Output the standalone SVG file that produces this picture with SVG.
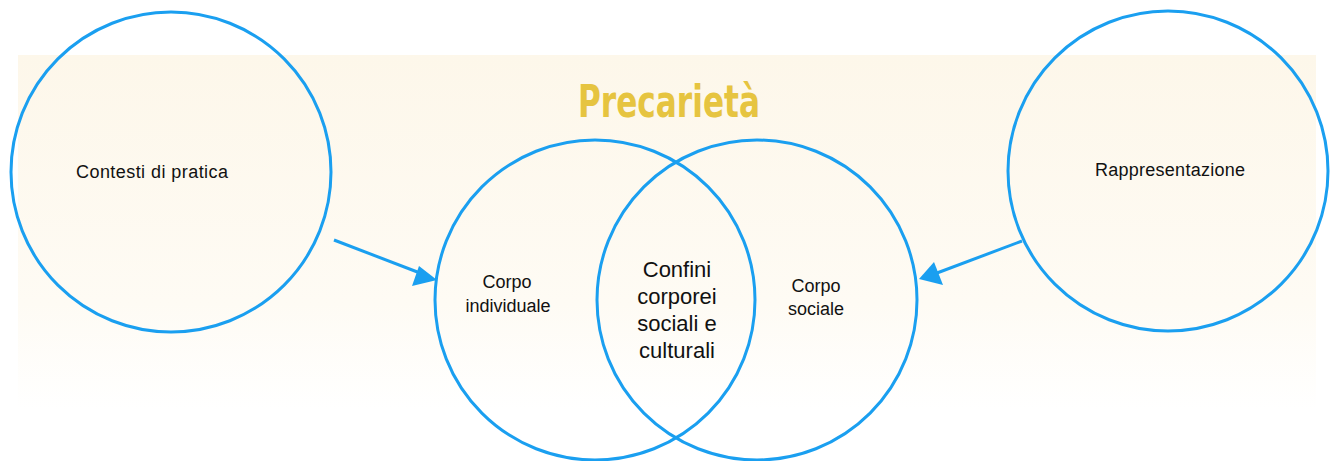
<svg xmlns="http://www.w3.org/2000/svg" width="1335" height="461" viewBox="0 0 1335 461">
<style>
.c{fill:none;stroke:#1a9ff0;stroke-width:3}
.t{font-family:"Helvetica","Liberation Sans",Arial,sans-serif;fill:#111;text-anchor:middle}
.s{font-size:18px}
.m{font-size:22px}
.a{stroke:#1a9ff0;stroke-width:3;fill:none}
</style>
<defs>
<linearGradient id="bg" x1="0" y1="0" x2="0" y2="1">
<stop offset="0" stop-color="#fdf7ea"/>
<stop offset="0.7" stop-color="#fefbf4"/>
<stop offset="1" stop-color="#ffffff"/>
</linearGradient>
</defs>
<rect x="18" y="55" width="1298" height="355" fill="url(#bg)"/>
<text x="578" y="117" textLength="182" lengthAdjust="spacingAndGlyphs" font-family="'Liberation Sans Narrow','DejaVu Sans Condensed','Liberation Sans',sans-serif" font-stretch="condensed" font-weight="bold" font-size="44" fill="#e6c440">Precarietà</text>
<g id="contesti">
<circle class="c" cx="171" cy="172" r="160"/>
<text class="t s" x="152" y="178" textLength="152">Contesti di pratica</text>
</g>
<g id="rappresentazione">
<circle class="c" cx="1168" cy="171" r="160"/>
<text class="t s" x="1170" y="176" textLength="150">Rappresentazione</text>
</g>
<g id="corpo-individuale">
<circle class="c" cx="595" cy="300" r="160"/>
<text class="t s" x="507" y="288">Corpo</text>
<text class="t s" x="508" y="312">individuale</text>
</g>
<g id="corpo-sociale">
<circle class="c" cx="757" cy="300" r="160"/>
<text class="t s" x="816" y="292">Corpo</text>
<text class="t s" x="816" y="315">sociale</text>
</g>
<g id="confini">
<text class="t m" x="677" y="277">Confini</text>
<text class="t m" x="677" y="304">corporei</text>
<text class="t m" x="677" y="331">sociali e</text>
<text class="t m" x="677" y="358">culturali</text>
</g>
<g id="connectors">
<line class="a" x1="334" y1="240" x2="420" y2="273"/>
<path d="M437,280 L412,286 L419,266 Z" fill="#1a9ff0"/>
<line class="a" x1="1022" y1="241" x2="937" y2="273"/>
<path d="M919,279 L943,285 L934,262 Z" fill="#1a9ff0"/>
</g>
</svg>
